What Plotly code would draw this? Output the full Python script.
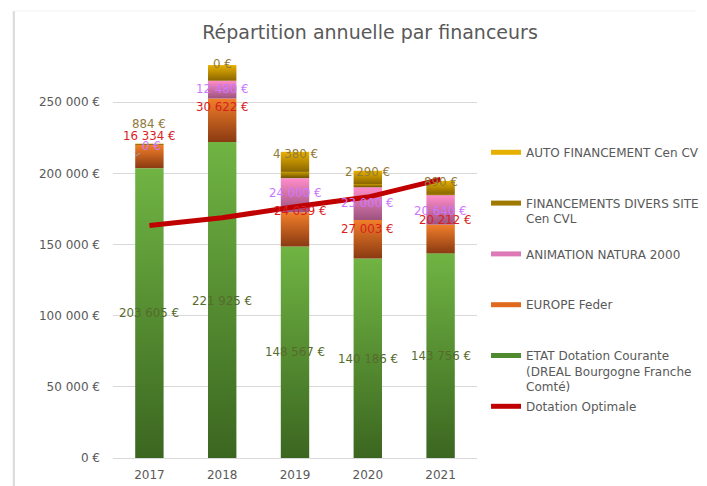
import plotly.graph_objects as go

# ---------------- data ----------------
years = ["2017", "2018", "2019", "2020", "2021"]
etat = [203605, 221925, 148567, 140186, 143756]
europe = [16334, 30622, 24039, 27003, 20212]
natura = [0, 12480, 24000, 23000, 20640]
divers = [884, 0, 4380, 2290, 890]
auto = [0, 11000, 14100, 9300, 9200]
dotation = [163300, 168800, 176500, 183300, 195700]
ytick_vals = [0, 50000, 100000, 150000, 200000, 250000]

names = {
    "auto": "AUTO FINANCEMENT Cen CV",
    "divers": "FINANCEMENTS DIVERS SITE<br>Cen CVL",
    "natura": "ANIMATION NATURA 2000",
    "europe": "EUROPE Feder",
    "etat": "ETAT Dotation Courante<br>(DREAL Bourgogne Franche<br>Comté)",
    "dot": "Dotation Optimale",
}

# ---------------- styles ----------------
FONT = "DejaVu Sans"
GREY = "#595959"
grad = {  # (bottom, top)
    "etat": ("#3B6620", "#70B443"),
    "europe": ("#8A3A12", "#F27F2A"),
    "natura": ("#9C527F", "#FF8DCB"),
    "divers": ("#6E5200", "#C79A00"),
    "auto": ("#8A6600", "#E8B000"),
}
legend_col = {
    "auto": "#E6B000", "divers": "#A07A00", "natura": "#DE79B8",
    "europe": "#E0691E", "etat": "#4F8A2E",
}
label_col = {"etat": "#566B2C", "europe": "#D91E1E", "natura": "#CC77FF", "divers": "#8F7A3A"}

fig = go.Figure()

# legend entries (padded to equal height)
def pad(t):
    n = t.count("<br>") + 1
    return t + "<br>\u00a0" * (3 - n)

for key in ["auto", "divers", "natura", "europe", "etat"]:
    fig.add_trace(go.Scatter(x=[None], y=[None], mode="lines", name=pad(names[key]),
                             line=dict(color=legend_col[key], width=5),
                             legendgroup=key, showlegend=True))

# stacked bars as gradient-filled polygons
W = 0.39
series = [("etat", etat), ("europe", europe), ("natura", natura), ("divers", divers), ("auto", auto)]
base = [0] * len(years)
for key, vals in series:
    for i, v in enumerate(vals):
        if v > 0:
            b, t = base[i], base[i] + v
            fig.add_trace(go.Scatter(
                x=[i - W / 2, i + W / 2, i + W / 2, i - W / 2, i - W / 2],
                y=[b, b, t, t, b], mode="lines", fill="toself",
                line=dict(width=0), showlegend=False, hoverinfo="skip",
                fillgradient=dict(type="vertical",
                                  colorscale=[[0, grad[key][0]], [1, grad[key][1]]]),
            ))
        base[i] += v

# Dotation Optimale line
fig.add_trace(go.Scatter(x=list(range(len(years))), y=dotation, mode="lines",
                         name=pad(names["dot"]), legendgroup="dot",
                         line=dict(color="#C00000", width=5)))

# data labels
def fmt(v):
    return f"{v:,}".replace(",", " ") + " €"

label_y = {
    "etat": [101800, 110300, 74400, 69500, 71600],
    "europe": [226100, 246500, 173500, 160800, 167100],
    "natura": [219100, 259100, 186100, 179100, 173500],
    "divers": [234600, 276700, 213500, 200800, 193800],
}
label_dx = {
    "etat": [0, 0, 0, 0, 0],
    "europe": [0, 0, 5, 0, 5],
    "natura": [0, 0, 0, 0, 0],
    "divers": [0, 0, 0, 0, 0],
}
vals_map = {"etat": etat, "europe": europe, "natura": natura, "divers": divers}
for key in ["etat", "europe", "divers", "natura"]:
    for i in range(len(years)):
        if key == "natura" and i == 0:
            continue
        fig.add_annotation(x=i, y=label_y[key][i], text=fmt(vals_map[key][i]),
                           showarrow=False, xshift=label_dx[key][i],
                           font=dict(family=FONT, size=11.8, color=label_col[key]))
# leader-line label (2017 Natura = 0)
fig.add_annotation(x=-W / 2, y=212000, text=fmt(natura[0]), showarrow=True,
                   ax=16, ay=-10, arrowhead=0, arrowwidth=1, arrowcolor="#A6A6A6",
                   standoff=0, font=dict(family=FONT, size=11.8, color=label_col["natura"]))

# frame lines
fig.add_shape(type="line", xref="paper", yref="paper", x0=-0.2726, x1=-0.2726,
              y0=-0.07, y1=1.1175, line=dict(color="#D9D9D9", width=2))
fig.add_shape(type="line", xref="paper", yref="paper", x0=-0.2726, x1=1.6,
              y0=1.1175, y1=1.1175, line=dict(color="#F2F2F2", width=1))

# the page body adds an 8px offset; margins compensate
fig.update_layout(
    width=707, height=486,
    margin=dict(l=105, r=237, t=50, b=36),
    paper_bgcolor="white", plot_bgcolor="white",
    title=dict(text="Répartition annuelle par financeurs", x=362 / 707, xanchor="center",
               xref="container", y=1 - 24 / 486, yanchor="middle",
               font=dict(family=FONT, size=19, color=GREY)),
    font=dict(family=FONT, color=GREY),
    showlegend=True,
    legend=dict(x=1.022, xanchor="left", y=0.80, yanchor="top",
                traceorder="grouped", tracegroupgap=1, valign="top",
                font=dict(family=FONT, size=12, color=GREY),
                bgcolor="rgba(0,0,0,0)"),
    xaxis=dict(range=[-0.5, len(years) - 0.5], tickvals=list(range(len(years))),
               ticktext=years, showgrid=False, zeroline=False,
               showline=True, linecolor="#D9D9D9", linewidth=1, ticks="",
               ticklabelstandoff=6,
               tickfont=dict(family=FONT, size=12, color=GREY), fixedrange=True),
    yaxis=dict(range=[0, 281000], tickvals=ytick_vals,
               ticktext=[fmt(v) for v in ytick_vals], showgrid=True,
               gridcolor="#D9D9D9", gridwidth=1, zeroline=False, showline=False,
               ticks="", ticklabelstandoff=12,
               tickfont=dict(family=FONT, size=12, color=GREY)),
)

fig.write_html("out.html")
